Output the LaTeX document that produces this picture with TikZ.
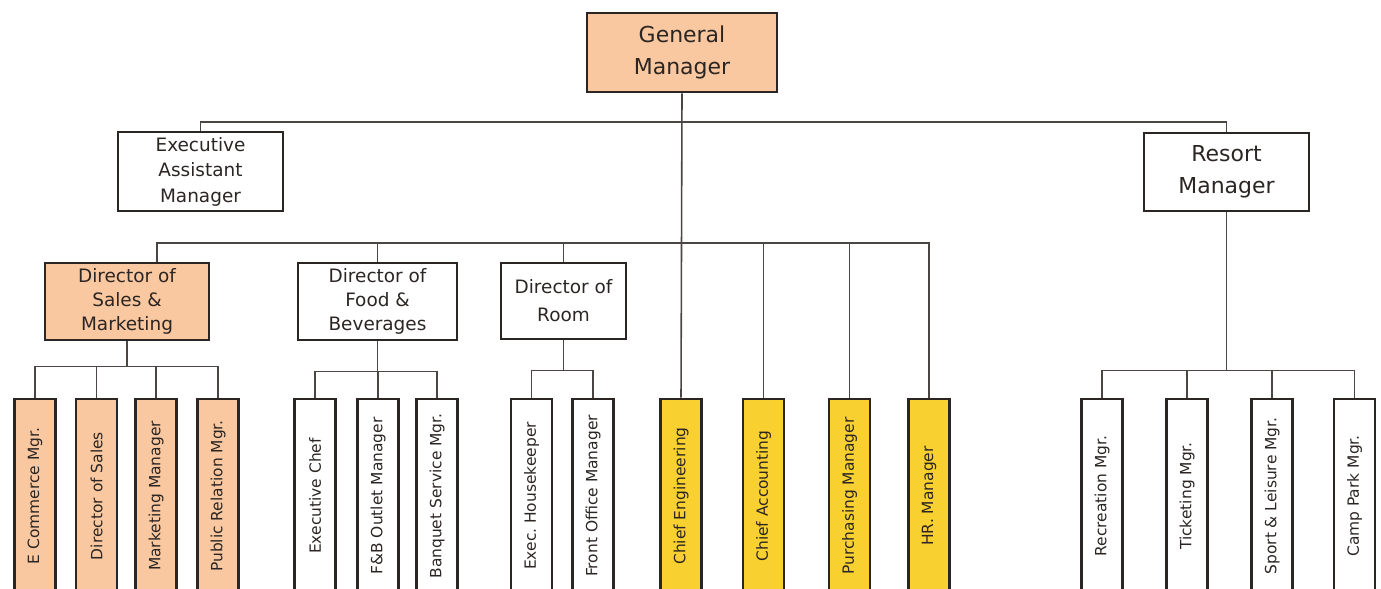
\documentclass[tikz,border=0pt]{standalone}
\usepackage{fontspec}
\setmainfont{DejaVu Sans}
\definecolor{peach}{HTML}{F9C8A0}
\definecolor{gold}{HTML}{F8D030}
\definecolor{ink}{HTML}{2B2523}
\tikzset{
  box/.style={draw=ink, line width=1.5pt, align=center, text=ink, inner sep=1pt,
    font=\fontsize{10.5}{13.5}\selectfont},
  bigbox/.style={box, font=\fontsize{12.5}{18}\selectfont},
  kid/.style={box, minimum width=0.82cm, minimum height=3.88cm,
    font=\fontsize{8.8}{10}\selectfont},
  link/.style={draw=ink!85, line width=0.9pt}
}
\newcommand\up[1]{\rotatebox{90}{#1}}
\frenchspacing

\begin{document}
\begin{tikzpicture}[x=0.02cm, y=-0.02cm]
	\clip (0,0) rectangle (1381,588);
	% heads
	\node[bigbox, fill=peach, minimum width=3.8cm, minimum height=1.58cm] (gm) at (682,52.5) {General\\Manager};
	\node[box, minimum width=3.3cm, minimum height=1.58cm, font=\fontsize{10.5}{14.5}\selectfont] (eam) at (200.5,171.5) {Executive\\Assistant\\Manager};
	\node[bigbox, minimum width=3.3cm, minimum height=1.56cm] (rm) at (1226.5,172) {Resort\\Manager};
	% directors
	\node[box, fill=peach, minimum width=3.28cm, minimum height=1.54cm] (dsm) at (127,301.5) {Director of\\Sales \&\\Marketing};
	\node[box, minimum width=3.18cm, minimum height=1.54cm] (dfb) at (377.5,301.5) {Director of\\Food \&\\Beverages};
	\node[box, minimum width=2.5cm, minimum height=1.52cm, font=\fontsize{10.5}{16}\selectfont] (dr) at (563.5,301) {Director of\\Room};
	% sales & marketing staff
	\node[kid, fill=peach] (ec) at (35,496) {\up{E Commerce Mgr.}};
	\node[kid, fill=peach] (ds) at (96.5,496) {\up{Director of Sales}};
	\node[kid, fill=peach] (mm) at (156,496) {\up{Marketing Manager}};
	\node[kid, fill=peach] (pr) at (218,496) {\up{Public Relation Mgr.}};
	% food & beverages staff
	\node[kid] (ech) at (315,496) {\up{Executive Chef}};
	\node[kid] (fbo) at (378,496) {\up{F\&B Outlet Manager}};
	\node[kid] (bsm) at (437,496) {\up{Banquet Service Mgr.}};
	% room staff
	\node[kid] (eh) at (531.5,496) {\up{Exec. Housekeeper}};
	\node[kid] (fom) at (593,496) {\up{Front Office Manager}};
	% direct reports
	\node[kid, fill=gold] (ce) at (681,496) {\up{Chief Engineering}};
	\node[kid, fill=gold] (ca) at (763.5,496) {\up{Chief Accounting}};
	\node[kid, fill=gold] (pm) at (849.5,496) {\up{Purchasing Manager}};
	\node[kid, fill=gold] (hr) at (929,496) {\up{HR. Manager}};
	% resort staff
	\node[kid] (rec) at (1102,496) {\up{Recreation Mgr.}};
	\node[kid] (tic) at (1187,496) {\up{Ticketing Mgr.}};
	\node[kid] (spl) at (1272,496) {\up{Sport \& Leisure Mgr.}};
	\node[kid] (cpm) at (1354.5,496) {\up{Camp Park Mgr.}};
	% links
	\coordinate (bar1) at (682,122);
	\coordinate (bar2) at (682,243);
	\draw[link] (eam.north) |- (bar1) -| (rm.north);
	\draw[link] (gm.south) -- (ce.north);
	\draw[link] ([xshift=0.6cm]dsm.north) |- (bar2) -| (hr.north);
	\foreach \n in {dfb,dr,ca,pm}
		\draw[link] (\n.north) -- (\n.north |- bar2);
	\foreach \n in {ec,ds,mm,pr}
		\draw[link] (dsm.south) -- ++(0,25) -| (\n.north);
	\foreach \n in {ech,fbo,bsm}
		\draw[link] (dfb.south) -- ++(0,30) -| (\n.north);
	\foreach \n in {eh,fom}
		\draw[link] (dr.south) -- ++(0,30) -| (\n.north);
	\foreach \n in {rec,tic,spl,cpm}
		\draw[link] (rm.south) -- ++(0,158) -| (\n.north);
\end{tikzpicture}
\end{document}
